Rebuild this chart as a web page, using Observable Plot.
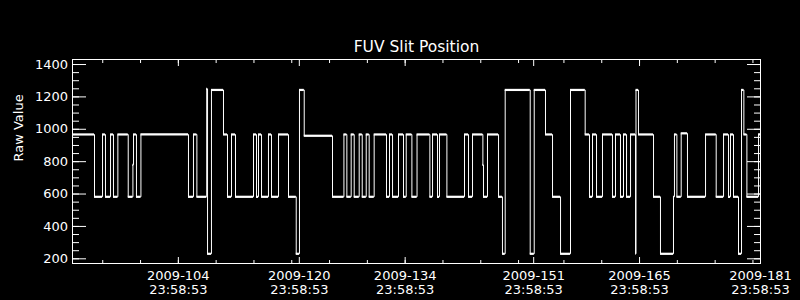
<!DOCTYPE html>
<html>
<head>
<meta charset="utf-8">
<script src="https://cdn.jsdelivr.net/npm/d3@7"></script>
<script src="https://cdn.jsdelivr.net/npm/@observablehq/plot@0.6"></script>
<style>
  html, body { margin: 0; padding: 0; background: #000; }
  #chart { width: 800px; height: 300px; }
</style>
</head>
<body>
<div id="chart"></div>
<script>
// ---- data (day of year 2009, fractional; value holds until next entry) ----
const dayOfYear = [
  90.9992, 93.91, 94.97, 95.36, 96.03, 96.42, 97.00, 98.37, 98.99, 99.07,
  99.46, 100.05, 106.34, 107.00, 107.45, 108.75, 108.86, 109.38, 110.97, 111.50,
  112.03, 112.56, 114.94, 115.34, 115.60, 116.00, 116.92, 117.32, 118.25, 119.57,
  120.59, 121.02, 121.65, 125.39, 126.90, 127.29, 127.86, 128.26, 128.92, 129.32,
  129.85, 130.24, 130.90, 132.53, 132.93, 133.33, 134.12, 134.78, 135.14, 135.89,
  136.57, 138.27, 138.62, 139.28, 139.54, 140.52, 142.85, 143.38, 143.91, 145.28,
  145.36, 145.89, 147.35, 147.87, 148.23, 151.54, 152.07, 153.56, 154.49, 155.55,
  156.87, 158.81, 159.38, 159.78, 160.31, 161.10, 162.42, 162.82, 163.48, 163.88,
  164.28, 164.81, 165.47, 165.53, 165.86, 167.85, 168.77, 170.49, 170.62, 170.94,
  171.51, 172.34, 174.73, 176.14, 177.11, 177.77, 178.03, 178.43, 179.09, 179.49,
  179.80, 180.20, 181.74, 181.9992
];
const rawValue = [
  968, 583, 968, 583, 968, 583, 968, 583, 780, 968,
  583, 968, 583, 968, 583, 1250, 231, 1243, 968, 583,
  968, 583, 968, 583, 968, 583, 968, 583, 968, 583,
  231, 1243, 960, 583, 968, 583, 968, 583, 968, 583,
  968, 583, 968, 583, 968, 583, 968, 583, 968, 583,
  968, 583, 968, 583, 968, 583, 968, 583, 968, 780,
  583, 968, 583, 231, 1243, 231, 1243, 968, 583, 231,
  1243, 968, 583, 968, 583, 968, 583, 968, 583, 968,
  583, 968, 231, 1243, 968, 583, 231, 583, 968, 583,
  975, 583, 968, 583, 968, 583, 968, 583, 231, 1243,
  968, 583, 968, 968
];

const titleText = "FUV Slit Position";
const yLabelText = "Raw Value";
const xDomain = [90.9992, 181.9992];
const yDomain = [171, 1431];
const yMajorTicks = [200, 400, 600, 800, 1000, 1200, 1400];
const yMinorTicks = [200, 250, 300, 350, 400, 450, 500, 550, 600, 650, 700, 750, 800, 850, 900, 950, 1000, 1050, 1100, 1150, 1200, 1250, 1300, 1350, 1400];
const xMajorTicks = [104.9992, 120.9992, 134.9992, 151.9992, 165.9992, 181.9992];
const xTickLabels = [
  "2009-104\n23:58:53", "2009-120\n23:58:53", "2009-134\n23:58:53",
  "2009-151\n23:58:53", "2009-165\n23:58:53", "2009-181\n23:58:53"
];
const xMinorTicks = [95, 100, 105, 110, 115, 120, 125, 130, 135, 140, 145, 150, 156, 161, 166, 171, 176, 181];

// ---- build ----
const points = dayOfYear.map((t, i) => ({t, v: rawValue[i]}));
const plateaus = points.slice(0, -1).map((p, i) => ({t1: p.t, t2: points[i + 1].t, v: p.v}));
const font = "'DejaVu Sans', sans-serif";

const chart = Plot.plot({
  width: 800,
  height: 300,
  marginLeft: 72,
  marginRight: 40,
  marginTop: 59,
  marginBottom: 37,
  style: {background: "black", color: "white", fontFamily: font, fontSize: "13px"},
  x: {domain: xDomain},
  y: {domain: yDomain},
  marks: [
    Plot.line(points, {x: "t", y: "v", curve: "step-after", stroke: "white", strokeWidth: 1}),
    Plot.ruleY(plateaus, {y: "v", x1: "t1", x2: "t2", stroke: "white", strokeWidth: 2.2}),
    Plot.frame({stroke: "white"}),
    // y axis left
    Plot.axisY({ticks: yMajorTicks, anchor: "left", tickSize: -14, tickPadding: 18.5, label: null, tickFormat: d => String(d), fill: "white", fontSize: 13}),
    Plot.axisY({ticks: yMinorTicks, anchor: "left", tickSize: -7, fill: "none", label: null}),
    // y axis right
    Plot.axisY({ticks: yMajorTicks, anchor: "right", tickSize: -14, fill: "none", label: null}),
    Plot.axisY({ticks: yMinorTicks, anchor: "right", tickSize: -7, fill: "none", label: null}),
    // x axis bottom
    Plot.axisX({ticks: xMajorTicks, anchor: "bottom", tickSize: -6, tickPadding: 12.3, label: null,
      tickFormat: d => xTickLabels[xMajorTicks.indexOf(d)], fill: "white", fontSize: 13, lineHeight: 1.08}),
    Plot.axisX({ticks: xMinorTicks, anchor: "bottom", tickSize: -3, fill: "none", label: null}),
    // x axis top
    Plot.axisX({ticks: xMajorTicks, anchor: "top", tickSize: -6, fill: "none", label: null}),
    Plot.axisX({ticks: xMinorTicks, anchor: "top", tickSize: -3, fill: "none", label: null}),
    // title and y label
    Plot.text([titleText], {frameAnchor: "top", dy: -12, lineAnchor: "middle", fontSize: 15.5, fill: "white"}),
    Plot.text([yLabelText], {frameAnchor: "left", dx: -54, rotate: -90, lineAnchor: "middle", fontSize: 13, fill: "white"})
  ]
});
document.getElementById("chart").appendChild(chart);
</script>
</body>
</html>
